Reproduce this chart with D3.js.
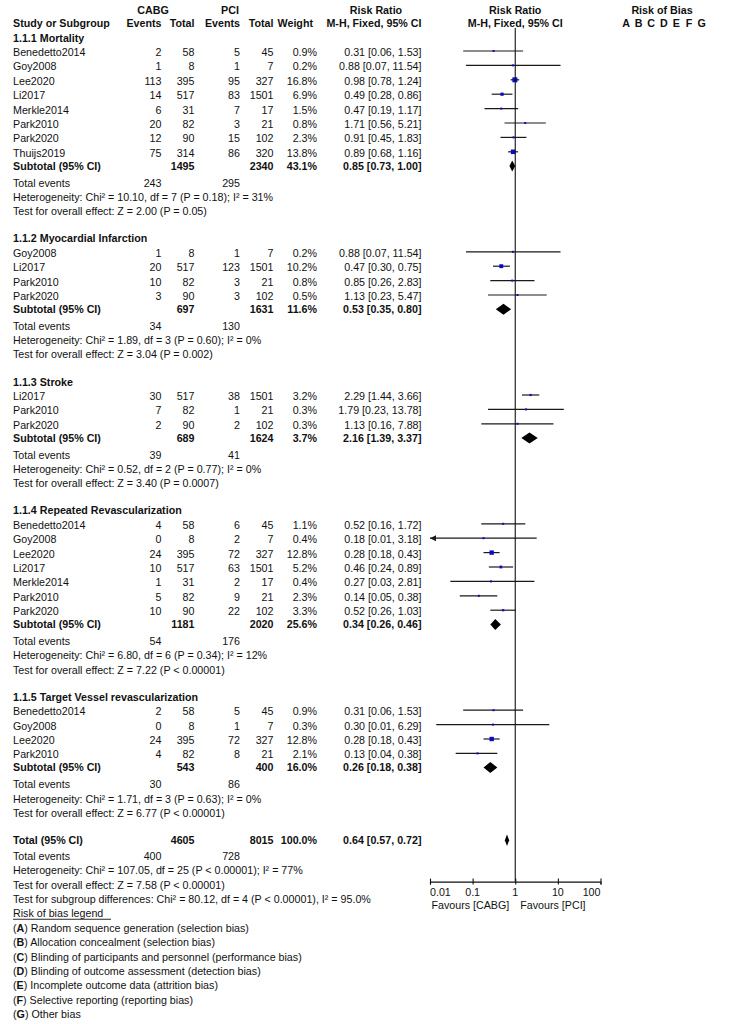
<!DOCTYPE html>
<html><head><meta charset="utf-8">
<script src="https://cdn.jsdelivr.net/npm/d3@7"></script>
<style>
html,body{margin:0;padding:0;background:#fff;}
svg text{font-family:"Liberation Sans",Arial,Helvetica,sans-serif;fill:#111;}
</style></head>
<body>
<svg id="chart" width="731" height="1024"></svg>
<script>
// ---- DATA ----
// [study, cabgEvents, cabgTotal, pciEvents, pciTotal, weight%, rr, lo, hi]
const mortality = [
  ["Benedetto2014",2,58,5,45,0.9,0.31,0.06,1.53],
  ["Goy2008",1,8,1,7,0.2,0.88,0.07,11.54],
  ["Lee2020",113,395,95,327,16.8,0.98,0.78,1.24],
  ["Li2017",14,517,83,1501,6.9,0.49,0.28,0.86],
  ["Merkle2014",6,31,7,17,1.5,0.47,0.19,1.17],
  ["Park2010",20,82,3,21,0.8,1.71,0.56,5.21],
  ["Park2020",12,90,15,102,2.3,0.91,0.45,1.83],
  ["Thuijs2019",75,314,86,320,13.8,0.89,0.68,1.16]
];
const myocardialInfarction = [
  ["Goy2008",1,8,1,7,0.2,0.88,0.07,11.54],
  ["Li2017",20,517,123,1501,10.2,0.47,0.30,0.75],
  ["Park2010",10,82,3,21,0.8,0.85,0.26,2.83],
  ["Park2020",3,90,3,102,0.5,1.13,0.23,5.47]
];
const stroke = [
  ["Li2017",30,517,38,1501,3.2,2.29,1.44,3.66],
  ["Park2010",7,82,1,21,0.3,1.79,0.23,13.78],
  ["Park2020",2,90,2,102,0.3,1.13,0.16,7.88]
];
const repeatedRevasc = [
  ["Benedetto2014",4,58,6,45,1.1,0.52,0.16,1.72],
  ["Goy2008",0,8,2,7,0.4,0.18,0.0099,3.18],
  ["Lee2020",24,395,72,327,12.8,0.28,0.18,0.43],
  ["Li2017",10,517,63,1501,5.2,0.46,0.24,0.89],
  ["Merkle2014",1,31,2,17,0.4,0.27,0.03,2.81],
  ["Park2010",5,82,9,21,2.3,0.14,0.05,0.38],
  ["Park2020",10,90,22,102,3.3,0.52,0.26,1.03]
];
const targetVessel = [
  ["Benedetto2014",2,58,5,45,0.9,0.31,0.06,1.53],
  ["Goy2008",0,8,1,7,0.3,0.30,0.014,6.29],
  ["Lee2020",24,395,72,327,12.8,0.28,0.18,0.43],
  ["Park2010",4,82,8,21,2.1,0.13,0.04,0.38]
];
const subgroupTitles = ["1.1.1 Mortality","1.1.2 Myocardial Infarction","1.1.3 Stroke",
  "1.1.4 Repeated Revascularization","1.1.5 Target Vessel revascularization"];
const subgroupStudies = [mortality, myocardialInfarction, stroke, repeatedRevasc, targetVessel];
// [cabgTotal, pciTotal, weight, rr, lo, hi, cabgEvents, pciEvents]
const subtotals = [
  [1495,2340,43.1,0.85,0.73,1.00,243,295],
  [697,1631,11.6,0.53,0.35,0.80,34,130],
  [689,1624,3.7,2.16,1.39,3.37,39,41],
  [1181,2020,25.6,0.34,0.26,0.46,54,176],
  [543,400,16.0,0.26,0.18,0.38,30,86]
];
const heterogeneity = [
  "Heterogeneity: Chi² = 10.10, df = 7 (P = 0.18); I² = 31%",
  "Heterogeneity: Chi² = 1.89, df = 3 (P = 0.60); I² = 0%",
  "Heterogeneity: Chi² = 0.52, df = 2 (P = 0.77); I² = 0%",
  "Heterogeneity: Chi² = 6.80, df = 6 (P = 0.34); I² = 12%",
  "Heterogeneity: Chi² = 1.71, df = 3 (P = 0.63); I² = 0%"
];
const overallEffect = [
  "Test for overall effect: Z = 2.00 (P = 0.05)",
  "Test for overall effect: Z = 3.04 (P = 0.002)",
  "Test for overall effect: Z = 3.40 (P = 0.0007)",
  "Test for overall effect: Z = 7.22 (P < 0.00001)",
  "Test for overall effect: Z = 6.77 (P < 0.00001)"
];
const total = [4605,8015,100.0,0.64,0.57,0.72,400,728];
const totalTexts = [
  "Heterogeneity: Chi² = 107.05, df = 25 (P < 0.00001); I² = 77%",
  "Test for overall effect: Z = 7.58 (P < 0.00001)",
  "Test for subgroup differences: Chi² = 80.12, df = 4 (P < 0.00001), I² = 95.0%"
];
const tickValues = [0.01,0.1,1,10,100];
const tickLabels = ["0.01","0.1","1","10","100"];
const favours = ["Favours [CABG]","Favours [PCI]"];
const biasLetters = ["A","B","C","D","E","F","G"];
const biasLegend = [
  ["A","Random sequence generation (selection bias)"],
  ["B","Allocation concealment (selection bias)"],
  ["C","Blinding of participants and personnel (performance bias)"],
  ["D","Blinding of outcome assessment (detection bias)"],
  ["E","Incomplete outcome data (attrition bias)"],
  ["F","Selective reporting (reporting bias)"],
  ["G","Other bias"]
];

// ---- LAYOUT ----
const FS = 10.7;
const svg = d3.select("#chart");
const x = d3.scaleLog().domain([0.01,100]).range([430,600.5]);
const col = {label:13, e1:161.5, n1:194.5, e2:240, n2:273.5, w:317, rr:421.5};
const off = FS*0.36; // baseline offset from row centre

function txt(g, xx, yy, s, opt={}) {
  const t = g.append("text").attr("x", xx).attr("y", yy + off)
    .attr("font-size", opt.size || FS)
    .attr("text-anchor", opt.anchor || "start")
    .attr("font-weight", opt.bold ? "bold" : "normal")
    .text(s);
  return t;
}
const fmt2 = d => d.toFixed(2);
const ciText = (rr,lo,hi) => `${fmt2(rr)} [${fmt2(lo)}, ${fmt2(hi)}]`;

const gT = svg.append("g");
const gM = svg.append("g");

// header
txt(gT, 153, 10, "CABG", {bold:true, anchor:"middle"});
txt(gT, 230, 10, "PCI", {bold:true, anchor:"middle"});
txt(gT, 376, 10, "Risk Ratio", {bold:true, anchor:"middle"});
txt(gT, x(1), 10, "Risk Ratio", {bold:true, anchor:"middle"});
txt(gT, 662, 10, "Risk of Bias", {bold:true, anchor:"middle"});
txt(gT, col.label, 23, "Study or Subgroup", {bold:true});
txt(gT, col.e1, 23, "Events", {bold:true, anchor:"end"});
txt(gT, col.n1, 23, "Total", {bold:true, anchor:"end"});
txt(gT, col.e2, 23, "Events", {bold:true, anchor:"end"});
txt(gT, col.n2, 23, "Total", {bold:true, anchor:"end"});
txt(gT, col.w - 4, 23, "Weight", {bold:true, anchor:"end"});
txt(gT, col.rr, 23, "M-H, Fixed, 95% CI", {bold:true, anchor:"end"});
txt(gT, x(1), 23, "M-H, Fixed, 95% CI", {bold:true, anchor:"middle"});
biasLetters.forEach((L,i) => txt(gT, 626 + i*12.6, 23, L, {bold:true, anchor:"middle"}));

const RH = 14.4;
let y = 37.8;
const lineTop = 28;
const sqColor = "#0a0acc";

function drawCI(yy, lo, hi) {
  const yl = yy - 1.2;
  const xl = lo < 0.01 ? x(0.01) : x(lo);
  gM.append("line").attr("x1", xl).attr("x2", x(Math.min(hi,100)))
    .attr("y1", yl).attr("y2", yl).attr("stroke", "#1a1a1a").attr("stroke-width", 1.2);
  if (lo < 0.01) {
    gM.append("path").attr("d", `M${xl},${yl} L${xl+6},${yl-3} L${xl+6},${yl+3} Z`).attr("fill","#1a1a1a");
  }
}
function drawDiamond(yy, rr, lo, hi, h) {
  gM.append("path").attr("d",
    `M${x(lo)},${yy} L${x(rr)},${yy-h} L${x(hi)},${yy} L${x(rr)},${yy+h} Z`)
    .attr("fill", "#000");
}

subgroupStudies.forEach((studies, gi) => {
  txt(gT, col.label, y, subgroupTitles[gi], {bold:true});
  studies.forEach(s => {
    y += RH;
    const [name,e1,n1,e2,n2,w,rr,lo,hi] = s;
    txt(gT, col.label, y, name);
    txt(gT, col.e1, y, e1, {anchor:"end"});
    txt(gT, col.n1, y, n1, {anchor:"end"});
    txt(gT, col.e2, y, e2, {anchor:"end"});
    txt(gT, col.n2, y, n2, {anchor:"end"});
    txt(gT, col.w, y, w.toFixed(1) + "%", {anchor:"end"});
    txt(gT, col.rr, y, ciText(rr,lo,hi), {anchor:"end"});
    drawCI(y, lo, hi);
    const side = Math.max(2, 5*Math.sqrt(w/16.8));
    gM.append("rect").attr("x", x(rr)-side/2).attr("y", y-1.2-side/2)
      .attr("width", side).attr("height", side).attr("fill", sqColor);
  });
  y += 13;
  const [n1,n2,w,rr,lo,hi,e1,e2] = subtotals[gi];
  txt(gT, col.label, y, "Subtotal (95% CI)", {bold:true});
  txt(gT, col.n1, y, n1, {anchor:"end", bold:true});
  txt(gT, col.n2, y, n2, {anchor:"end", bold:true});
  txt(gT, col.w, y, w.toFixed(1) + "%", {anchor:"end", bold:true});
  txt(gT, col.rr, y, ciText(rr,lo,hi), {anchor:"end", bold:true});
  drawDiamond(y, rr, lo, hi, 5.5);
  y += 17;
  txt(gT, col.label, y, "Total events");
  txt(gT, col.e1, y, e1, {anchor:"end"});
  txt(gT, col.e2, y, e2, {anchor:"end"});
  y += 14.2;
  txt(gT, col.label, y, heterogeneity[gi]);
  y += 14.2;
  txt(gT, col.label, y, overallEffect[gi]);
  y += 27.2;
});

// total
{
  const [n1,n2,w,rr,lo,hi,e1,e2] = total;
  txt(gT, col.label, y, "Total (95% CI)", {bold:true});
  txt(gT, col.n1, y, n1, {anchor:"end", bold:true});
  txt(gT, col.n2, y, n2, {anchor:"end", bold:true});
  txt(gT, col.w, y, w.toFixed(1) + "%", {anchor:"end", bold:true});
  txt(gT, col.rr, y, ciText(rr,lo,hi), {anchor:"end", bold:true});
  drawDiamond(y, rr, lo, hi, 5.8);
  y += 16;
  txt(gT, col.label, y, "Total events");
  txt(gT, col.e1, y, e1, {anchor:"end"});
  txt(gT, col.e2, y, e2, {anchor:"end"});
  totalTexts.forEach(t => { y += 14.3; txt(gT, col.label, y, t); });
}
const axisY = y - 17.5;
y += 14.5;
txt(gT, col.label, y, "Risk of bias legend");
gT.append("line").attr("x1", col.label).attr("x2", col.label + 98)
  .attr("y1", y + off + 1.8).attr("y2", y + off + 1.8).attr("stroke", "#111").attr("stroke-width", 0.9);
biasLegend.forEach(([L, s]) => {
  y += 14.35;
  const t = gT.append("text").attr("x", col.label).attr("y", y + off).attr("font-size", FS);
  t.append("tspan").text("(");
  t.append("tspan").attr("font-weight", "bold").text(L);
  t.append("tspan").text(") " + s);
});

// null line
gM.append("line").attr("x1", x(1)).attr("x2", x(1)).attr("y1", lineTop).attr("y2", axisY)
  .attr("stroke", "#111").attr("stroke-width", 1.1);

// axis
const ax = d3.axisBottom(x).tickValues(tickValues).tickSize(3).tickFormat("");
const gA = svg.append("g").attr("transform", `translate(0,${axisY})`).call(ax);
gA.select(".domain").attr("stroke", "#111").attr("stroke-width", 1.1);
gA.selectAll(".tick line").attr("stroke", "#111").attr("stroke-width", 1.1).attr("y1", -3).attr("y2", 3);
tickValues.forEach((v, i) => {
  const anchor = i === 0 ? "start" : (i === tickValues.length - 1 ? "end" : "middle");
  txt(gT, x(v), axisY + 10.5, tickLabels[i], {anchor});
});
txt(gT, x(1) - 6, axisY + 23.5, favours[0], {anchor:"end"});
txt(gT, x(1) + 5, axisY + 23.5, favours[1], {anchor:"start"});
</script>
</body></html>
